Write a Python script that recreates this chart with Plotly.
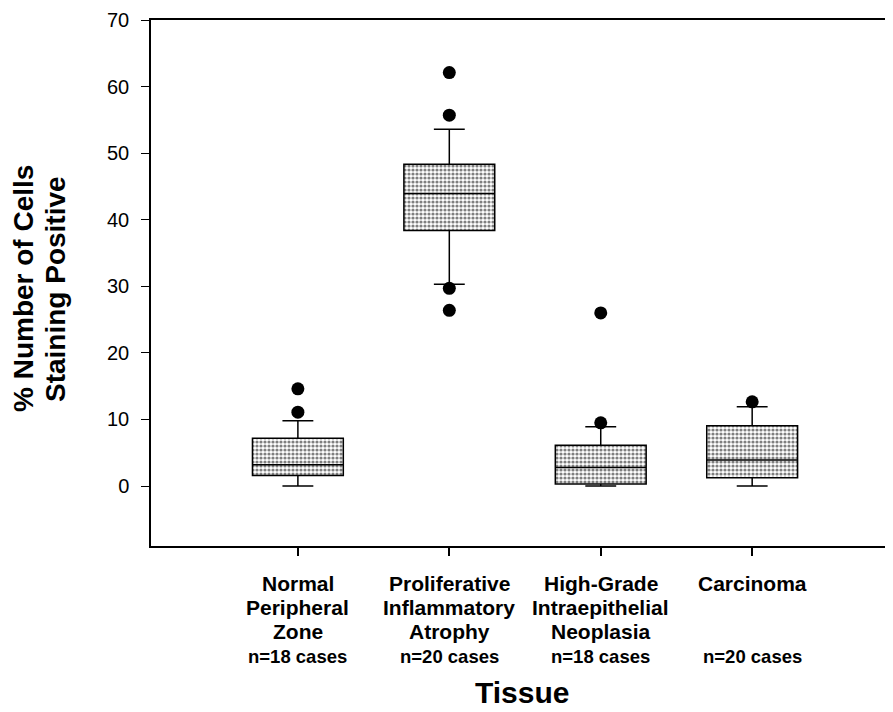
import plotly.graph_objects as go

# ---- data ----
categories = ["Normal Peripheral Zone", "Proliferative Inflammatory Atrophy",
              "High-Grade Intraepithelial Neoplasia", "Carcinoma"]
cat_pos = [1, 2, 3, 4]
label_lines = [["Normal", "Peripheral", "Zone"],
               ["Proliferative", "Inflammatory", "Atrophy"],
               ["High-Grade", "Intraepithelial", "Neoplasia"],
               ["Carcinoma"]]
n_labels = ["n=18 cases", "n=20 cases", "n=18 cases", "n=20 cases"]

q1 = [1.6, 38.4, 0.3, 1.25]
median = [3.2, 43.95, 2.8, 3.9]
q3 = [7.2, 48.35, 6.15, 9.05]
lower_fence = [0.0, 30.3, 0.0, 0.0]
upper_fence = [9.8, 53.6, 8.9, 11.9]

outlier_x = [1, 1, 2, 2, 2, 2, 3, 3, 4]
outlier_y = [14.6, 11.1, 62.1, 55.7, 29.7, 26.4, 26.0, 9.5, 12.65]

y_ticks = [0, 10, 20, 30, 40, 50, 60, 70]
y_title_lines = ["% Number of Cells", "Staining Positive"]
x_title = "Tissue"

FONT = "Liberation Sans, Arial, Helvetica, sans-serif"

fig = go.Figure()

# stippled fill of the boxes
fig.add_trace(go.Bar(
    x=cat_pos, base=q1, y=[b - a for a, b in zip(q1, q3)], width=0.6,
    marker=dict(color="#ffffff", line=dict(width=0),
                pattern=dict(shape=".", fgcolor="#000000", bgcolor="#ffffff",
                             size=4, solidity=0.5)),
    showlegend=False, hoverinfo="skip"))

fig.add_trace(go.Box(
    x=cat_pos, q1=q1, median=median, q3=q3,
    lowerfence=lower_fence, upperfence=upper_fence,
    width=0.6, whiskerwidth=0.34, boxpoints=False,
    fillcolor="rgba(0,0,0,0)", line=dict(color="#000000", width=1.5),
    showlegend=False))

fig.add_trace(go.Scatter(
    x=outlier_x, y=outlier_y, mode="markers",
    marker=dict(color="#000000", size=13),
    showlegend=False))

annotations = []
for xp, lines, nl in zip(cat_pos, label_lines, n_labels):
    for i, t in enumerate(lines):
        annotations.append(dict(
            x=xp, xref="x", y=0, yref="paper", yanchor="middle",
            yshift=-(37 + 24 * i), text="<b>%s</b>" % t, showarrow=False,
            font=dict(family=FONT, size=21, color="#000000"), xanchor="center"))
    annotations.append(dict(
        x=xp, xref="x", y=0, yref="paper", yanchor="middle",
        yshift=-110, text="<b>%s</b>" % nl, showarrow=False,
        font=dict(family=FONT, size=18.5, color="#000000"), xanchor="center"))

annotations.append(dict(
    x=0.5, xref="paper", y=0, yref="paper", yanchor="middle", yshift=-146,
    text="<b>%s</b>" % x_title, showarrow=False,
    font=dict(family=FONT, size=30, color="#000000")))
for t, xs in zip(y_title_lines, [-127, -95]):
    annotations.append(dict(
        x=0, xref="paper", xshift=xs, xanchor="center",
        y=0.4886, yref="paper", yanchor="middle", textangle=-90,
        text="<b>%s</b>" % t, showarrow=False,
        font=dict(family=FONT, size=28, color="#000000")))

# the page body has an 8px margin, so the figure is 8px smaller
fig.update_layout(
    width=885, height=704,
    margin=dict(l=143, r=0, t=12, b=166),
    paper_bgcolor="#ffffff", plot_bgcolor="#ffffff",
    showlegend=False,
    annotations=annotations,
    xaxis=dict(range=[0.03, 4.93], showgrid=False, zeroline=False,
               showline=True, linecolor="#000000", linewidth=1.5, mirror=True,
               tickvals=cat_pos, ticktext=["", "", "", ""],
               ticks="outside", ticklen=8, tickwidth=1.5, tickcolor="#000000"),
    yaxis=dict(range=[-9, 70], showgrid=False, zeroline=False,
               showline=True, linecolor="#000000", linewidth=1.5,
               tickvals=y_ticks, ticks="outside", ticklen=8, tickwidth=1.2,
               tickcolor="#000000", ticklabelstandoff=8,
               tickfont=dict(family=FONT, size=20, color="#000000")),
)

fig.write_html("out.html")
